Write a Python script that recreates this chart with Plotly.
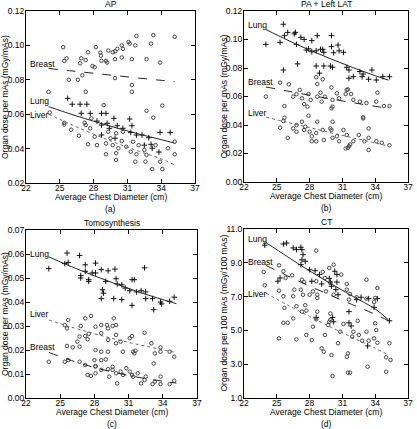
import plotly.graph_objects as go

# ---------------- data ----------------
fit_x = [24, 26, 28, 30, 32, 34, 35.2]

# (a) AP
ap_breast_x = [24.0,25.3,25.6,25.4,25.8,26.6,26.8,26.9,27.3,27.0,27.3,27.5,27.9,28.1,28.2,28.6,28.65,28.7,29.1,29.2,29.3,29.7,29.9,29.9,29.9,30.1,30.5,30.5,30.6,31.1,31.2,31.4,31.4,31.4,31.7,31.8,32.7,33.1,33.3,33.9,35.2,32.7,33.3,34.1]
ap_breast_y = [0.073,0.099,0.0925,0.091,0.080,0.080,0.0896,0.0925,0.0915,0.0826,0.073,0.096,0.088,0.0873,0.099,0.0958,0.094,0.091,0.091,0.090,0.097,0.096,0.0965,0.092,0.081,0.098,0.100,0.093,0.098,0.102,0.101,0.092,0.077,0.073,0.100,0.1055,0.092,0.101,0.106,0.090,0.105,0.062,0.058,0.065]
ap_lung_x = [25.7,26.1,26.8,27.4,26.9,27.7,28.7,29.1,28.3,28.7,29.2,29.4,29.8,30.1,30.6,31.2,31.4,31.3,31.8,32.3,32.9,33.1,33.2,33.9,34.8,28.7,29.9,32.5,33.8]
ap_lung_y = [0.0692,0.0658,0.0658,0.0658,0.0605,0.0605,0.0605,0.0605,0.056,0.0537,0.0547,0.0518,0.0576,0.0533,0.0518,0.0572,0.0533,0.0494,0.0479,0.0479,0.0463,0.0425,0.0402,0.0494,0.0494,0.0479,0.046,0.042,0.038]
ap_liver_x = [24.1,25.4,25.4,26.0,26.7,27.5,27.2,27.3,27.8,27.7,28.1,28.3,28.9,29.1,29.3,29.5,29.7,30.0,30.0,30.2,30.5,30.6,30.9,31.3,31.5,31.7,32.0,32.5,32.7,33.2,33.5,33.9,34.1,34.6,35.2,35.2,29.1,30.0,32.6,31.8]
ap_liver_y = [0.061,0.055,0.054,0.051,0.0475,0.0425,0.055,0.0537,0.0576,0.0518,0.0469,0.042,0.0653,0.0367,0.0498,0.046,0.042,0.0373,0.0334,0.0402,0.0444,0.0498,0.0411,0.0382,0.044,0.0324,0.042,0.0392,0.0363,0.0281,0.042,0.0324,0.0281,0.0402,0.0367,0.044,0.043,0.0489,0.0324,0.0367]
ap_breast_fit = [0.0866,0.0852,0.0838,0.0824,0.0810,0.0797,0.0789]
ap_lung_fit = [0.0644,0.0600,0.0559,0.0521,0.0485,0.0452,0.0432]
ap_liver_fit = [0.0600,0.0540,0.0484,0.0432,0.0385,0.0340,0.0305]

# (b) PA + Left LAT
pa_lung_x = [24.0,25.6,25.3,25.7,26.0,26.6,26.7,26.8,27.2,27.5,27.7,27.9,28.2,28.2,28.7,28.6,29.0,29.2,29.3,30.0,30.0,30.2,30.6,30.7,31.1,26.9,28.9,28.6,29.3,29.9,30.1,31.4,31.6,32.0,32.6,32.8,32.9,33.4,33.7,34.1,34.7,35.3,25.6,31.6]
pa_lung_y = [0.0966,0.1107,0.098,0.1027,0.105,0.1039,0.105,0.0966,0.1015,0.1001,0.0926,0.0935,0.0992,0.0914,0.1027,0.0921,0.0931,0.0931,0.091,0.1027,0.095,0.0907,0.0961,0.0921,0.091,0.0829,0.0764,0.0814,0.0814,0.0814,0.0805,0.0805,0.0786,0.0739,0.0775,0.0739,0.0758,0.0721,0.0786,0.0716,0.0739,0.0739,0.0786,0.0728]
pa_breast_x = [24.0,25.3,26.1,25.7,26.5,26.8,27.1,27.3,27.5,27.9,27.8,28.1,28.7,28.7,28.6,29.0,29.1,29.4,30.0,30.1,30.1,30.5,30.7,31.3,31.5,31.8,32.0,32.6,32.9,33.2,34.2,34.1,34.8,35.3,30.0,29.2,31.4]
pa_breast_y = [0.0599,0.0697,0.0686,0.0533,0.0599,0.0617,0.0646,0.0587,0.0547,0.0617,0.0529,0.0576,0.0599,0.0688,0.0735,0.0627,0.0564,0.0599,0.0664,0.0576,0.0529,0.0622,0.0587,0.0617,0.065,0.0617,0.0576,0.0564,0.0454,0.0554,0.0627,0.0564,0.0533,0.0533,0.0517,0.0721,0.0646]
pa_liver_x = [25.3,25.6,25.7,26.0,26.5,26.8,27.3,27.6,27.5,27.9,28.2,28.2,28.6,28.6,28.7,29.2,29.3,29.9,30.0,30.1,30.1,30.5,30.7,31.1,31.4,31.6,31.7,32.0,32.5,32.9,33.0,33.4,33.4,33.4,34.1,34.6,35.3,26.8,28.0,31.5,31.3]
pa_liver_y = [0.0381,0.0428,0.0451,0.031,0.0376,0.0353,0.0423,0.0388,0.0365,0.0465,0.0321,0.0286,0.0286,0.0344,0.0423,0.0365,0.0295,0.0376,0.0365,0.0423,0.031,0.0321,0.0286,0.0365,0.033,0.0251,0.0263,0.0286,0.033,0.0446,0.0286,0.031,0.0376,0.0225,0.0286,0.0275,0.0258,0.04,0.0353,0.024,0.0235]
pa_lung_fit = [0.1070,0.0995,0.0926,0.0862,0.0802,0.0746,0.0715]
pa_breast_fit = [0.0667,0.0638,0.0609,0.0582,0.0556,0.0531,0.0517]
pa_liver_fit = [0.0455,0.0418,0.0382,0.0345,0.0309,0.0274,0.0252]

# (c) Tomosynthesis
to_lung_x = [24.0,25.6,25.7,25.4,26.7,27.2,26.8,26.8,27.2,27.5,27.5,27.8,28.1,28.1,28.6,28.7,28.6,28.8,29.0,29.2,29.7,29.8,29.9,30.0,30.4,30.4,31.3,31.5,31.3,31.1,31.7,32.4,32.5,32.5,33.1,33.2,33.8,33.9,34.6,35.0,30.7,32.1]
to_lung_y = [0.0539,0.0604,0.0565,0.056,0.0594,0.0555,0.051,0.05,0.0528,0.0493,0.0486,0.0521,0.0562,0.0521,0.0535,0.0451,0.0414,0.0437,0.0486,0.053,0.0414,0.0537,0.0497,0.0475,0.0472,0.041,0.0493,0.0493,0.0386,0.0447,0.0442,0.0542,0.0414,0.0442,0.0414,0.0368,0.04,0.0392,0.0403,0.042,0.0458,0.0447]
to_liver_x = [25.7,25.4,25.6,27.2,27.7,26.8,26.7,27.2,27.5,28.1,26.5,27.4,28.6,29.1,29.2,29.7,29.6,29.9,29.9,28.6,29.2,29.9,30.3,28.1,28.6,29.2,30.5,31.1,31.3,31.4,31.5,31.6,32.4,33.0,33.2,33.3,33.8,33.8,34.6,35.0,26.7]
to_liver_y = [0.0325,0.0304,0.029,0.0332,0.0342,0.03,0.0256,0.0258,0.0267,0.0297,0.0235,0.0245,0.0304,0.0304,0.029,0.0332,0.03,0.0304,0.0263,0.027,0.0242,0.0228,0.0235,0.02,0.0193,0.0193,0.0193,0.0249,0.0258,0.0193,0.0186,0.0197,0.0272,0.0228,0.0144,0.0186,0.0211,0.0193,0.0193,0.0172,0.0214]
to_breast_x = [24.0,25.6,26.1,25.4,25.7,26.7,27.2,27.4,27.7,28.0,28.1,28.1,28.6,28.6,29.0,29.2,29.3,29.6,29.9,30.0,30.3,30.5,31.1,31.3,31.4,31.8,32.1,32.4,32.5,33.1,33.3,33.8,33.8,34.6,35.0,28.1,29.6,30.8]
to_breast_y = [0.0151,0.0217,0.0211,0.0151,0.0158,0.0151,0.0137,0.0096,0.0092,0.0158,0.0131,0.0103,0.0158,0.0117,0.0161,0.012,0.0089,0.0117,0.0103,0.0061,0.011,0.0096,0.011,0.0096,0.0089,0.0103,0.0061,0.0075,0.0089,0.0058,0.0068,0.0089,0.0058,0.0058,0.0072,0.0133,0.013,0.0124]
to_lung_fit = [0.0588,0.0547,0.0509,0.0473,0.0440,0.0410,0.0393]
to_liver_fit = [0.0325,0.0295,0.0268,0.0243,0.0221,0.0201,0.0189]
to_breast_fit = [0.0190,0.0156,0.0127,0.0104,0.0085,0.0070,0.0062]

# (d) CT
ct_lung_x = [23.9,25.6,25.9,26.5,26.8,27.2,27.3,27.4,27.3,27.2,27.6,28.0,28.2,28.5,28.9,29.1,29.8,29.9,30.0,30.3,30.5,30.5,30.4,30.6,32.3,32.7,33.4,33.9,34.2,25.3,25.1,28.6,30.1,30.2,31.6,31.6,31.8,33.3,35.3]
ct_lung_y = [10.04,10.11,10.17,9.88,9.78,9.92,9.78,9.48,9.18,8.89,9.09,8.59,7.91,8.53,8.30,7.75,8.08,7.86,7.61,8.50,8.30,7.86,7.41,7.11,6.82,6.96,6.88,6.37,6.88,8.1,7.91,5.77,5.77,5.51,5.45,6.11,5.26,4.08,5.57]
ct_breast_x = [23.8,23.9,25.2,25.2,25.6,25.8,25.6,26.4,26.6,27.2,27.4,27.3,27.5,28.0,28.6,28.3,28.6,28.7,29.2,29.4,29.5,29.8,29.9,30.2,30.2,30.9,31.4,31.4,31.6,31.7,32.3,33.2,33.2,33.9,34.0,34.2,28.7,27.6,26.8,26.5,25.7,27.7]
ct_breast_y = [8.46,7.67,8.85,7.35,8.50,8.1,7.02,8.26,7.41,7.41,7.11,8.0,7.86,7.11,9.72,7.31,7.91,7.11,8.46,8.1,7.31,8.69,7.80,8.89,7.11,8.30,7.75,7.41,6.82,7.15,6.96,8.0,6.88,6.68,6.92,7.51,6.92,6.49,6.43,7.02,6.33,6.17]
ct_liver_x = [25.2,25.6,26.0,26.5,26.8,27.3,27.7,28.2,28.3,28.6,28.7,29.1,29.3,29.4,29.7,29.8,29.9,30.0,29.9,30.1,30.6,30.8,31.1,31.4,31.5,31.5,31.7,31.9,32.0,32.5,32.8,33.2,33.3,33.4,33.9,34.1,34.2,35.0,35.0,35.3,35.4,32.4,34.0]
ct_liver_y = [4.53,5.45,5.45,5.71,4.47,6.11,4.73,4.43,5.22,5.66,6.11,3.94,3.74,4.73,5.32,5.51,5.62,3.54,6.0,2.30,4.24,4.92,5.38,3.44,3.64,2.5,2.5,4.63,4.92,4.73,4.39,4.92,2.85,4.39,4.53,5.02,4.27,2.55,3.41,4.24,3.25,5.57,5.42]
ct_lung_fit = [10.20,9.35,8.52,7.74,7.00,6.27,5.63]
ct_breast_fit = [8.85,8.22,7.62,7.05,6.50,5.95,5.58]
ct_liver_fit = [7.20,6.50,5.82,5.18,4.55,3.95,3.55]

x_ticks = [22, 25, 28, 31, 34, 37]

# ---------------- figure ----------------
W, H = 417, 429
FONT = "Liberation Sans Narrow, Arial Narrow, Liberation Sans, Arial, sans-serif"
FS = 8.5
fig = go.Figure()

def px_x(p):
    return p / W

def px_y(p):
    return 1 - p / H

panels = [
    dict(ax="", xpx=(26, 195), ypx=(11, 183), yr=(0.02, 0.12), ytv=[0.02,0.04,0.06,0.08,0.10,0.12], fmt=".2f",
         title="AP", sub="(a)", ytitle="Organ dose per mAs (mGy/mAs)",
         series=[(ap_breast_x, ap_breast_y, "circle", ap_breast_fit, "dash", "Breast", 0.0893),
                 (ap_lung_x, ap_lung_y, "cross", ap_lung_fit, "solid", "Lung", 0.0678),
                 (ap_liver_x, ap_liver_y, "circle", ap_liver_fit, "dot", "Liver", 0.0598)]),
    dict(ax="2", xpx=(244, 408), ypx=(11, 182), yr=(0.0, 0.12), ytv=[0.0,0.02,0.04,0.06,0.08,0.10,0.12], fmt=".2f",
         title="PA + Left LAT", sub="(b)", ytitle="Organ dose per mAs (mGy/mAs)",
         series=[(pa_lung_x, pa_lung_y, "cross", pa_lung_fit, "solid", "Lung", 0.110),
                 (pa_breast_x, pa_breast_y, "circle", pa_breast_fit, "dash", "Breast", 0.0704),
                 (pa_liver_x, pa_liver_y, "circle", pa_liver_fit, "dot", "Liver", 0.0482)]),
    dict(ax="3", xpx=(26, 197), ypx=(230, 398), yr=(0.0, 0.07), ytv=[0.0,0.01,0.02,0.03,0.04,0.05,0.06,0.07], fmt=".2f",
         title="Tomosynthesis", sub="(c)", ytitle="Organ dose per mAs (mGy/mAs)",
         series=[(to_lung_x, to_lung_y, "cross", to_lung_fit, "solid", "Lung", 0.0600),
                 (to_liver_x, to_liver_y, "circle", to_liver_fit, "dot", "Liver", 0.0350),
                 (to_breast_x, to_breast_y, "circle", to_breast_fit, "dash", "Breast", 0.0211)]),
    dict(ax="4", xpx=(244, 408), ypx=(229, 398), yr=(1.0, 11.0), ytv=[1,3,5,7,9,11], fmt=".1f",
         title="CT", sub="(d)", ytitle="Organ dose per 100 mAs (mGy/100 mAs)",
         series=[(ct_lung_x, ct_lung_y, "cross", ct_lung_fit, "solid", "Lung", 10.41),
                 (ct_breast_x, ct_breast_y, "circle", ct_breast_fit, "dash", "Breast", 9.03),
                 (ct_liver_x, ct_liver_y, "circle", ct_liver_fit, "dot", "Liver", 7.15)]),
]

annotations = []
layout_axes = {}
for p in panels:
    a = p["ax"]
    xref, yref = "x" + a, "y" + a
    x0, x1 = p["xpx"]
    y0, y1 = p["ypx"]
    layout_axes["xaxis" + a] = dict(
        domain=[px_x(x0), px_x(x1)], range=[22, 37], anchor=yref,
        tickvals=x_ticks, ticks="inside", ticklen=4, tickcolor="black",
        showline=True, linecolor="black", linewidth=1, mirror="ticks",
        showgrid=False, zeroline=False, automargin=False, ticklabelstandoff=-3,
        tickfont=dict(family=FONT, size=FS, color="black"))
    layout_axes["yaxis" + a] = dict(
        domain=[px_y(y1), px_y(y0)], range=list(p["yr"]), anchor=xref,
        tickvals=p["ytv"], tickformat=p["fmt"], ticks="inside", ticklen=4, tickcolor="black",
        showline=True, linecolor="black", linewidth=1, mirror="ticks",
        showgrid=False, zeroline=False, automargin=False, ticklabelstandoff=-1,
        tickfont=dict(family=FONT, size=FS, color="black"))
    for sx, sy, sym, fit, dash, label, ly in p["series"]:
        if sym == "cross":
            mk = dict(symbol="cross-thin", size=4, line=dict(width=1, color="#111"), color="#111")
        else:
            mk = dict(symbol="circle-open", size=3.5, line=dict(width=1, color="#444"), color="#444")
        fig.add_trace(go.Scatter(x=sx, y=sy, mode="markers", marker=mk,
                                 xaxis=xref, yaxis=yref, showlegend=False, hoverinfo="skip"))
        lc = "#666" if dash == "dot" else "#222"
        fig.add_trace(go.Scatter(x=fit_x, y=fit, mode="lines",
                                 line=dict(color=lc, width=1, dash=dash, shape="spline"),
                                 xaxis=xref, yaxis=yref, showlegend=False, hoverinfo="skip"))
        annotations.append(dict(x=22.15, y=ly, xref=xref, yref=yref, text=label, showarrow=False,
                                xanchor="left", yanchor="middle",
                                font=dict(family=FONT, size=FS, color="black")))
    cx = (x0 + x1) / 2 / W
    annotations.append(dict(x=cx, y=px_y(y0 - 7), xref="paper", yref="paper", text=p["title"],
                            showarrow=False, xanchor="center", yanchor="middle",
                            font=dict(family=FONT, size=FS, color="black")))
    annotations.append(dict(x=cx, y=px_y(y1 + 14), xref="paper", yref="paper",
                            text="Average Chest Diameter (cm)", showarrow=False,
                            xanchor="center", yanchor="middle",
                            font=dict(family=FONT, size=FS, color="black")))
    annotations.append(dict(x=cx, y=px_y(y1 + 26), xref="paper", yref="paper", text=p["sub"],
                            showarrow=False, xanchor="center", yanchor="middle",
                            font=dict(family=FONT, size=FS, color="black")))
    annotations.append(dict(x=px_x(x0 - 21), y=px_y((y0 + y1) / 2), xref="paper", yref="paper",
                            text=p["ytitle"], showarrow=False, textangle=-90,
                            xanchor="center", yanchor="middle",
                            font=dict(family=FONT, size=FS, color="black")))

fig.update_layout(width=W, height=H, margin=dict(l=0, r=0, t=0, b=0, pad=0),
                  paper_bgcolor="white", plot_bgcolor="white",
                  annotations=annotations, **layout_axes)
fig.write_html("out.html", config={"displayModeBar": False},
               post_script="document.body.style.margin='0';document.body.style.overflow='hidden';")
